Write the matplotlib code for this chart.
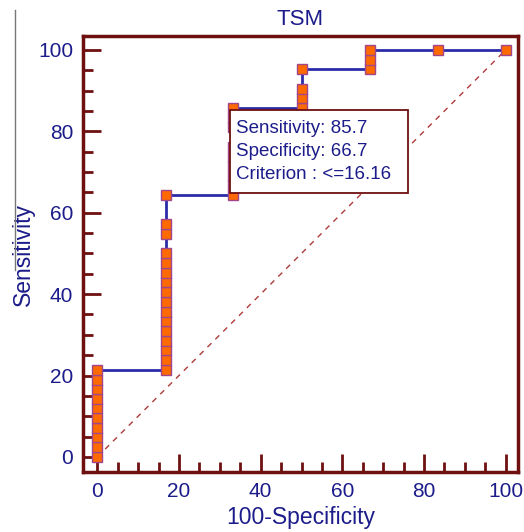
import matplotlib
matplotlib.use("Agg")
import matplotlib.pyplot as plt
from matplotlib.lines import Line2D
from matplotlib.patches import Rectangle
from matplotlib.ticker import MultipleLocator

plt.rcParams['font.family'] = ['Liberation Sans', 'DejaVu Sans']

# ROC points grouped by 100-Specificity value: sensitivity values in each column
fpr_levels = [0, 16.7, 33.3, 50, 66.7, 83.3, 100]
sens_at_0 = [0, 2.4, 4.8, 7.1, 9.5, 11.9, 14.3, 16.7, 19.0, 21.4]
sens_at_16 = [21.4, 23.8, 26.2, 28.6, 31.0, 33.3, 35.7, 38.1, 40.5, 42.9, 45.2, 47.6,
              50.0, 54.8, 57.1, 64.3]
sens_at_33 = [64.3, 66.7, 69.0, 71.4, 73.8, 76.2, 81.0, 83.3, 85.7]
sens_at_50 = [85.7, 88.1, 90.5, 95.2]
sens_at_66 = [95.2, 97.6, 100]
sens_at_83 = [100]
sens_at_100 = [100]
columns = [sens_at_0, sens_at_16, sens_at_33, sens_at_50, sens_at_66, sens_at_83, sens_at_100]

x_pts, y_pts = [], []
for fx, col in zip(fpr_levels, columns):
    x_pts += [fx] * len(col)
    y_pts += col

title = "TSM"
xlabel = "100-Specificity"
ylabel = "Sensitivity"
note_lines = ["Sensitivity: 85.7", "Specificity: 66.7", "Criterion : <=16.16"]
ticks = [0, 20, 40, 60, 80, 100]

navy = '#1c1c8a'
maroon = '#6e1010'
line_blue = '#2b2ba8'
orange = '#ff6a00'
edge = '#a0468c'

fig = plt.figure(figsize=(5.24, 5.32), dpi=100)
ax = fig.add_axes([83/524, 1-472/532, (518-83)/524, (472-36)/532])

ax.plot([0, 100], [0, 100], ls=(0, (4, 4)), color='#b03a3a', lw=1.0, zorder=1)
ax.plot(x_pts, y_pts, color=line_blue, lw=2, zorder=2)
ax.plot(x_pts, y_pts, ls='none', marker='s', ms=7.2, mfc=orange, mec=edge, mew=1.0, zorder=3)

ax.set_xlim(-3.5, 103)
ax.set_ylim(-3.7, 103.4)
ax.set_xticks(ticks)
ax.set_yticks(ticks)
ax.xaxis.set_minor_locator(MultipleLocator(5))
ax.yaxis.set_minor_locator(MultipleLocator(5))
ax.tick_params(which='both', direction='in', color=maroon, width=2, top=False, right=False,
               labelcolor=navy, labelsize=15)
ax.tick_params(which='major', length=13, pad=7)
ax.tick_params(which='minor', length=7.5)
for s in ax.spines.values():
    s.set_color(maroon)
    s.set_linewidth(2.5)

ax.set_title(title, color=navy, fontsize=16, pad=8)
ax.set_xlabel(xlabel, color=navy, fontsize=16.5, labelpad=4)
ax.set_ylabel(ylabel, color=navy, fontsize=16.5, labelpad=2)

# annotation box
box_x0, box_x1, box_y0, box_y1 = 32.4, 76.0, 64.9, 85.3
ax.add_patch(Rectangle((box_x0, box_y0), box_x1 - box_x0, box_y1 - box_y0,
                       fc='white', ec=maroon, lw=1.3, zorder=5))
for i, line in enumerate(note_lines):
    ax.text(34.0, 80.8 - 5.75 * i, line, ha='left', va='center', color=navy,
            fontsize=13.5, zorder=6)

fig.add_artist(Line2D([15/524, 15/524], [1-10/532, 1-270/532], color='#777777', lw=1))

fig.savefig('out.png', dpi=100)
